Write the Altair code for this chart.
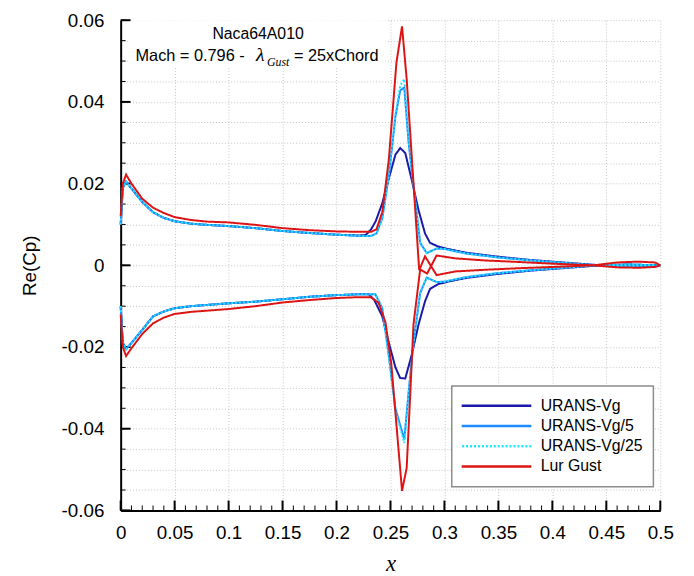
import altair as alt
import pandas as pd
import numpy as np

SERIES = ["URANS-Vg", "URANS-Vg/5", "URANS-Vg/25", "Lur Gust"]
COLORS = ["#1a1aa8", "#1e8cff", "#22e4ff", "#dc1414"]
DASHES = [[1, 0], [1, 0], [2, 2], [1, 0]]

# ---- URANS-Vg (dark blue) ----
vg_up_x = [0, 0.002, 0.005, 0.01, 0.02, 0.03, 0.04, 0.05, 0.065, 0.08, 0.1, 0.125, 0.15, 0.175, 0.2, 0.22,
           0.227, 0.232, 0.2363, 0.2424, 0.2485, 0.2546, 0.259, 0.2637, 0.2698, 0.276, 0.282, 0.2866, 0.2942,
           0.3034, 0.32, 0.35, 0.38, 0.41, 0.44, 0.47, 0.5]
vg_up_cp = [0.010, 0.019, 0.0205, 0.0188, 0.0155, 0.0130, 0.0116, 0.0108, 0.0102, 0.0099, 0.0096, 0.0091, 0.0084,
            0.0079, 0.0075, 0.0073, 0.0074, 0.0088, 0.0108, 0.0152, 0.0213, 0.0271, 0.0287, 0.0275, 0.0208,
            0.0135, 0.0078, 0.0055, 0.0046, 0.0040, 0.0031, 0.0021, 0.0013, 0.0007, 0.0001, -0.0002, 0.0]
vg_lo_x = [0, 0.002, 0.005, 0.01, 0.02, 0.03, 0.04, 0.05, 0.065, 0.08, 0.1, 0.125, 0.15, 0.175, 0.2, 0.22,
           0.23, 0.235, 0.2424, 0.2485, 0.2546, 0.259, 0.2637, 0.2698, 0.276, 0.282, 0.2866, 0.2942, 0.3034,
           0.32, 0.35, 0.38, 0.41, 0.44, 0.47, 0.5]
vg_lo_cp = [-0.010, -0.019, -0.0205, -0.0190, -0.0158, -0.0125, -0.0113, -0.0105, -0.0100, -0.0097, -0.0093,
            -0.0089, -0.0083, -0.0077, -0.0073, -0.0071, -0.0071, -0.0085, -0.0125, -0.0190, -0.0250, -0.0276,
            -0.0277, -0.0218, -0.0145, -0.0088, -0.0058, -0.0046, -0.0040, -0.0031, -0.0021, -0.0013, -0.0007,
            -0.0001, 0.0002, 0.0]

# ---- URANS-Vg/5 (blue) ----
v5_up_x = [0, 0.002, 0.005, 0.01, 0.02, 0.03, 0.04, 0.05, 0.065, 0.08, 0.1, 0.125, 0.15, 0.175, 0.2, 0.22,
           0.232, 0.237, 0.2424, 0.2485, 0.2546, 0.259, 0.2628, 0.2668, 0.2713, 0.2775, 0.2836, 0.2927, 0.3,
           0.32, 0.35, 0.38, 0.41, 0.44, 0.47, 0.5]
v5_up_cp = [0.010, 0.019, 0.0205, 0.0188, 0.0155, 0.0130, 0.0116, 0.0108, 0.0102, 0.0099, 0.0096, 0.0091, 0.0084,
            0.0079, 0.0075, 0.0072, 0.0072, 0.0078, 0.0115, 0.0220, 0.0365, 0.0428, 0.0435, 0.0300, 0.0195,
            0.0055, 0.0030, 0.0041, 0.0040, 0.0029, 0.0019, 0.0012, 0.0006, 0.0000, -0.0002, 0.0]
v5_lo_x = [0, 0.002, 0.005, 0.01, 0.02, 0.03, 0.04, 0.05, 0.065, 0.08, 0.1, 0.125, 0.15, 0.175, 0.2, 0.22,
           0.236, 0.2424, 0.2485, 0.2546, 0.2628, 0.2668, 0.2713, 0.2775, 0.2836, 0.2927, 0.3, 0.32, 0.35,
           0.38, 0.41, 0.44, 0.47, 0.5]
v5_lo_cp = [-0.010, -0.019, -0.0205, -0.0190, -0.0158, -0.0125, -0.0113, -0.0105, -0.0100, -0.0097, -0.0093,
            -0.0089, -0.0083, -0.0077, -0.0073, -0.0071, -0.0071, -0.0105, -0.0222, -0.0351, -0.0426, -0.0310,
            -0.0189, -0.0068, -0.0030, -0.0041, -0.0040, -0.0029, -0.0019, -0.0012, -0.0006, 0.0, 0.0002, 0.0]

# ---- URANS-Vg/25 (cyan, dotted) ----
v25_up_x = v5_up_x
v25_up_cp = [0.010, 0.019, 0.0205, 0.0188, 0.0155, 0.0130, 0.0116, 0.0108, 0.0102, 0.0099, 0.0096, 0.0091, 0.0084,
             0.0079, 0.0075, 0.0072, 0.0072, 0.0078, 0.0115, 0.0222, 0.0370, 0.0440, 0.0456, 0.0305, 0.0195,
             0.0052, 0.0030, 0.0041, 0.0040, 0.0029, 0.0019, 0.0012, 0.0006, 0.0000, -0.0002, 0.0]
v25_lo_x = v5_lo_x
v25_lo_cp = [-0.010, -0.019, -0.0205, -0.0190, -0.0158, -0.0125, -0.0113, -0.0105, -0.0100, -0.0097, -0.0093,
             -0.0089, -0.0083, -0.0077, -0.0073, -0.0071, -0.0071, -0.0107, -0.0225, -0.0356, -0.0435, -0.0315,
             -0.0190, -0.0066, -0.0030, -0.0041, -0.0040, -0.0029, -0.0019, -0.0012, -0.0006, 0.0, 0.0002, 0.0]

# ---- Lur Gust (red) ----
lur_up_x = [0, 0.002, 0.005, 0.01, 0.02, 0.03, 0.04, 0.05, 0.065, 0.08, 0.1, 0.125, 0.15, 0.175, 0.2, 0.22,
            0.232, 0.237, 0.2424, 0.2485, 0.2555, 0.2607, 0.265, 0.27, 0.2766, 0.282, 0.2927, 0.31, 0.337,
            0.37, 0.40, 0.438, 0.46, 0.48, 0.495, 0.5]
lur_up_cp = [0.012, 0.020, 0.0222, 0.0200, 0.0163, 0.0141, 0.0128, 0.0118, 0.0111, 0.0107, 0.0105, 0.0099,
             0.0091, 0.0086, 0.0083, 0.0082, 0.0082, 0.0088, 0.0130, 0.0260, 0.0496, 0.0585, 0.0456, 0.0254,
             -0.0012, 0.0022, -0.0024, -0.0015, -0.0011, -0.0007, -0.0004, 0.0, 0.0007, 0.0009, 0.0007, 0.0]
lur_lo_x = [0, 0.002, 0.005, 0.01, 0.02, 0.03, 0.04, 0.05, 0.065, 0.08, 0.1, 0.125, 0.15, 0.175, 0.2, 0.22,
            0.232, 0.239, 0.2454, 0.2507, 0.2555, 0.2607, 0.265, 0.2684, 0.2713, 0.2775, 0.284, 0.2927, 0.31,
            0.337, 0.37, 0.40, 0.438, 0.46, 0.48, 0.495, 0.5]
lur_lo_cp = [-0.012, -0.020, -0.0222, -0.0203, -0.0168, -0.0142, -0.0128, -0.0119, -0.0114, -0.0111, -0.0107,
             -0.0100, -0.0091, -0.0085, -0.0080, -0.0078, -0.0078, -0.0092, -0.0140, -0.0240, -0.0390, -0.0552,
             -0.0496, -0.0310, -0.0145, -0.0010, -0.0020, 0.0024, 0.0017, 0.0012, 0.0008, 0.0004, 0.0, -0.0005,
             -0.0006, -0.0004, 0.0]

CURVES = [
    ("URANS-Vg", vg_up_x, vg_up_cp, vg_lo_x, vg_lo_cp),
    ("URANS-Vg/5", v5_up_x, v5_up_cp, v5_lo_x, v5_lo_cp),
    ("URANS-Vg/25", v25_up_x, v25_up_cp, v25_lo_x, v25_lo_cp),
    ("Lur Gust", lur_up_x, lur_up_cp, lur_lo_x, lur_lo_cp),
]

X_TICKS = [0, 0.05, 0.1, 0.15, 0.2, 0.25, 0.3, 0.35, 0.4, 0.45, 0.5]
X_MINOR = [round(i * 0.01, 2) for i in range(51)]
Y_MAJOR = [-0.06, -0.04, -0.02, 0, 0.02, 0.04, 0.06]
Y_MINOR = [round(i * 0.005, 3) for i in range(-12, 13)]

rows = []
for name, ux, ucp, lx, lcp in CURVES:
    for a, b in zip(ux, ucp):
        rows.append({"series": name, "surface": "upper", "x": a, "cp": b})
    for a, b in zip(lx, lcp):
        rows.append({"series": name, "surface": "lower", "x": a, "cp": b})
df = pd.DataFrame(rows)

W, H = 546, 496
SANS = "Liberation Sans, Arial, sans-serif"
SERIF = "Liberation Serif, Times New Roman, serif"

X_ENC = alt.X("x:Q", scale=alt.Scale(domain=[0, 0.5], nice=False, zero=False),
              axis=alt.Axis(values=X_TICKS, title="x", grid=True, ticks=False,
                            labelExpr="replace(format(datum.value, '~g'), '\u2212', '-')",
                            labelFont=SANS, labelFontSize=19, labelPadding=13, labelColor="black",
                            labelOverlap=False, labelFlush=False,
                            titleFont=SERIF, titleFontStyle="italic", titleFontWeight="normal",
                            titleFontSize=23, titleColor="black", titleX=273, titleY=61,
                            titleBaseline="alphabetic", titleAlign="center"))
Y_ENC = alt.Y("cp:Q", scale=alt.Scale(domain=[-0.06, 0.06], nice=False, zero=False),
              axis=alt.Axis(values=Y_MINOR, title="Re(Cp)", grid=True, ticks=False,
                            labelExpr="abs(datum.value*50 - round(datum.value*50)) < 0.01 ? replace(format(datum.value, '~g'), '\u2212', '-') : ''",
                            labelFont=SANS, labelFontSize=19, labelPadding=17, labelColor="black",
                            labelOverlap=False, labelFlush=False,
                            titleFont=SANS, titleFontSize=19, titleFontWeight="normal", titleColor="black",
                            titleAngle=-90, titleX=-92, titleY=248, titleAlign="center",
                            titleBaseline="middle"))

LEG = alt.Legend(title=None, orient="none", legendX=335, legendY=370, symbolType="stroke",
                 symbolSize=5476, symbolStrokeWidth=2.5, clipHeight=20, rowPadding=0.5,
                 labelFont=SANS, labelFontSize=16, labelColor="black", labelOffset=8,
                 symbolOffset=-5, padding=10, strokeColor="#8c8c8c", fillColor="white", labelLimit=300)

COLOR = alt.Color("series:N", scale=alt.Scale(domain=SERIES, range=COLORS), legend=LEG)
DASH = alt.StrokeDash("series:N", scale=alt.Scale(domain=SERIES, range=DASHES), legend=LEG)

title_bg = alt.Chart(pd.DataFrame({"a": [0]})).mark_rect(color="white").encode(
    x=alt.value(8), x2=alt.value(268), y=alt.value(0), y2=alt.value(47))

ytick_major = alt.Chart(pd.DataFrame({"cp": Y_MAJOR})).mark_rule(color="black", strokeWidth=2).encode(
    y=Y_ENC, x=alt.value(0), x2=alt.value(10))
ytick_minor = alt.Chart(pd.DataFrame({"cp": Y_MINOR})).mark_rule(color="black", strokeWidth=1).encode(
    y=Y_ENC, x=alt.value(0), x2=alt.value(5))
xtick_major = alt.Chart(pd.DataFrame({"x": X_TICKS})).mark_rule(color="black", strokeWidth=2).encode(
    x=X_ENC, y=alt.value(H), y2=alt.value(H - 10))
xtick_minor = alt.Chart(pd.DataFrame({"x": X_MINOR})).mark_rule(color="black", strokeWidth=1).encode(
    x=X_ENC, y=alt.value(H), y2=alt.value(H - 5))

line_layers = []
for s in SERIES:
    line_layers.append(
        alt.Chart(df[df.series == s]).mark_line(strokeWidth=2).encode(
            x=X_ENC, y=Y_ENC, color=COLOR, strokeDash=DASH, detail="surface:N",
            order=alt.Order("x:Q")))


def txt(t, x, y, font, size, style="normal", align="left"):
    return alt.Chart(pd.DataFrame({"t": [t]})).mark_text(
        font=font, fontSize=size, fontStyle=style, align=align, baseline="alphabetic", color="black"
    ).encode(text="t:N", x=alt.value(x), y=alt.value(y))


texts = [
    txt("Naca64A010", 139, 19, SANS, 16, align="center"),
    txt("Mach = 0.796 -", 15, 41, SANS, 16.5),
    txt("\u03bb", 137, 41, SERIF, 20, style="italic"),
    txt("Gust", 148, 46, SERIF, 12, style="italic"),
    txt("= 25xChord", 261, 41, SANS, 16.5, align="right"),
]

chart = alt.layer(title_bg, ytick_minor, ytick_major, xtick_minor, xtick_major, *line_layers, *texts).properties(
    width=W, height=H,
    padding={"left": 114, "top": 9, "right": 26, "bottom": 63},
    autosize=alt.AutoSizeParams(type="none"),
).configure_view(stroke=None).configure_axis(
    domainColor="black", domainWidth=2, gridColor="#c4c4c4", gridDash=[1, 2], gridWidth=1
).configure_legend(strokeWidth=1.5)

chart.save("out.html", embed_options={"renderer": "svg", "actions": False})
